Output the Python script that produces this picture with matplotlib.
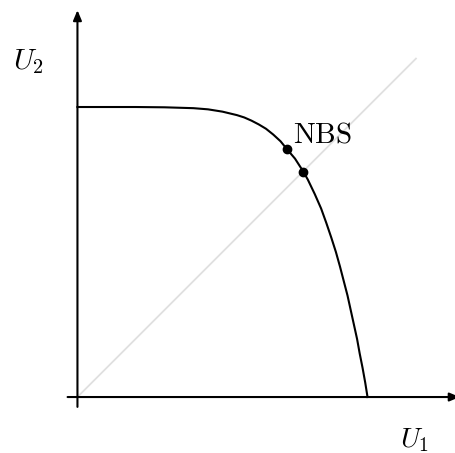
import matplotlib
matplotlib.use("Agg")
import matplotlib.pyplot as plt

# Pareto frontier (units: plateau height = 1)
u1 = [0.0, 0.2, 0.3, 0.4, 0.45, 0.5, 0.55, 0.575, 0.6, 0.625, 0.65, 0.675,
      0.7, 0.722, 0.75, 0.777, 0.794, 0.818, 0.840, 0.858, 0.875, 0.891,
      0.905, 0.918, 0.931, 0.942, 0.953, 0.964, 0.973, 0.983, 0.992, 1.0]
u2 = [1.0, 1.0, 0.999, 0.996, 0.992, 0.984, 0.972, 0.964, 0.953, 0.940,
      0.925, 0.905, 0.882, 0.855, 0.822, 0.780, 0.75, 0.70, 0.65, 0.60,
      0.55, 0.50, 0.45, 0.40, 0.35, 0.30, 0.25, 0.20, 0.15, 0.10, 0.05, 0.0]

# marked points: Nash bargaining solution and the egalitarian point
pts_u1 = [0.722, 0.777]
pts_u2 = [0.855, 0.777]
nbs_label = "NBS"
diag_end = 1.167

plt.rcParams['mathtext.fontset'] = 'cm'

fig = plt.figure(figsize=(4.56, 4.53), dpi=100)
ax = fig.add_axes([0, 0, 1, 1])
ax.set_xlim(-0.267, 1.305)
ax.set_ylim(-0.193, 1.369)
ax.axis('off')

# 45 degree line
ax.plot([0, diag_end], [0, diag_end], color='#e0e0e0', lw=1.3, zorder=1)

# axes with arrows
arrow = dict(arrowstyle='-|>,head_length=0.6,head_width=0.25', color='black',
             lw=1.5, shrinkA=0, shrinkB=0)
ax.annotate('', xy=(1.318, 0), xytext=(-0.034, 0), arrowprops=arrow,
            annotation_clip=False)
ax.annotate('', xy=(0, 1.334), xytext=(0, -0.034), arrowprops=arrow)

# frontier
ax.plot(u1, u2, color='black', lw=1.5, zorder=3, solid_joinstyle='round')
ax.plot(pts_u1, pts_u2, 'o', color='black', ms=6, zorder=4)

ax.text(0.743, 0.876, r'$\mathrm{' + nbs_label + '}$', fontsize=21,
        va='baseline', ha='left')
ax.text(-0.222, 1.131, r'$U_2$', fontsize=21, va='baseline', ha='left')
ax.text(1.112, -0.172, r'$U_1$', fontsize=20, va='baseline', ha='left')

fig.savefig('out.png', dpi=100)
